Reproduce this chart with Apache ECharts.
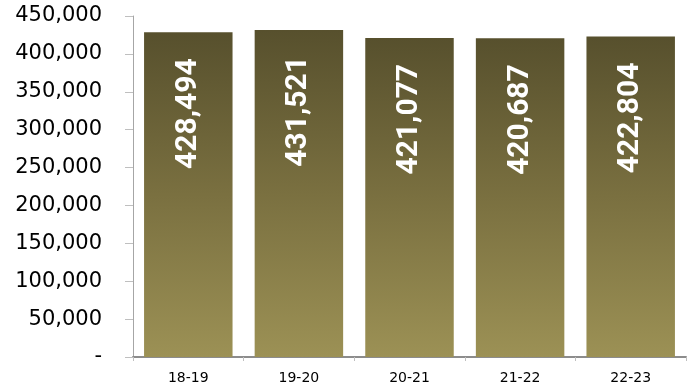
<!DOCTYPE html>
<html>
<head>
<meta charset="utf-8">
<script src="https://cdn.jsdelivr.net/npm/echarts@6/dist/echarts.min.js"></script>
<style>
  html, body { margin: 0; padding: 0; background: #fff; }
  #chart { width: 691px; height: 390px; }
</style>
</head>
<body>
<div id="chart"></div>
<script>
const years = ['18-19', '19-20', '20-21', '21-22', '22-23']
const totals = [428494, 431521, 421077, 420687, 422804]

function fmt(v) {
  if (v === 0) return '-'
  return String(v).replace(/\B(?=(\d{3})+(?!\d))/g, ',')
}

const chart = echarts.init(document.getElementById('chart'))
chart.setOption({
  animation: false,
  grid: {
    top: 16,
    bottom: 33,
    left: 133,
    right: 5
  },
  xAxis: {
    type: 'category',
    data: years,
    boundaryGap: true,
    axisLine: {
      show: true,
      lineStyle: { color: '#8c8c8c', width: 2 }
    },
    axisTick: {
      show: true,
      length: 4,
      lineStyle: { color: '#bfbfbf' }
    },
    axisLabel: {
      margin: 14,
      fontFamily: 'DejaVu Sans',
      fontSize: 14,
      color: '#000'
    }
  },
  yAxis: {
    type: 'value',
    min: 0,
    max: 450000,
    interval: 50000,
    axisLine: { // y轴
      show: true,
      lineStyle: { color: '#a6a6a6', width: 1 }
    },
    axisTick: {
      show: true,
      length: 8,
      lineStyle: { color: '#bfbfbf' }
    },
    splitLine: { show: false },
    axisLabel: {
      margin: 31,
      fontFamily: 'DejaVu Sans',
      fontSize: 21,
      color: '#000',
      formatter: fmt
    }
  },
  series: [{
    type: 'bar',
    data: totals,
    barCategoryGap: '20%',
    itemStyle: {
      color: new echarts.graphic.LinearGradient(0, 0, 0, 1, [
        { offset: 0, color: '#57502d' },
        { offset: 0.5, color: '#7a7040' },
        { offset: 1, color: '#9c9155' }
      ])
    },
    label: {
      show: true,
      position: 'insideTop',
      distance: 26,
      rotate: 90,
      align: 'right',
      verticalAlign: 'middle',
      color: '#fff',
      fontFamily: 'Roboto',
      fontWeight: 'bold',
      fontSize: 30,
      formatter: p => fmt(p.value)
    }
  }]
})
</script>
</body>
</html>
